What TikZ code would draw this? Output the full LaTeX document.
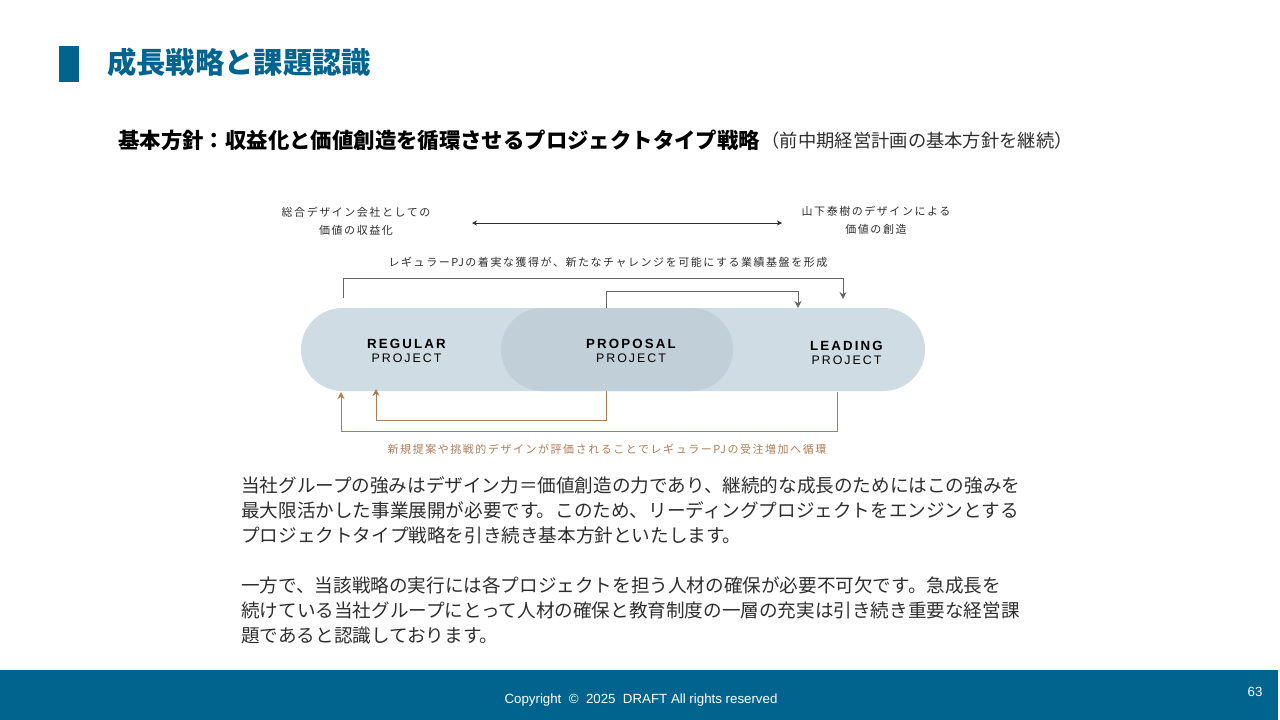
\documentclass[tikz,border=0pt]{standalone}
\usepackage{fontspec}
\setmainfont{Noto Sans CJK JP}
\newfontfamily\latinfont{Liberation Sans}
\newfontfamily\smallfont[LetterSpace=14]{Noto Sans CJK JP}
\newfontfamily\brandfont[LetterSpace=16]{Liberation Sans}
\usepackage{tikz}
\usetikzlibrary{arrows.meta}
\usetikzlibrary{positioning}
\usetikzlibrary{shapes.misc}
\definecolor{teal}{HTML}{00648F}
\definecolor{pilllight}{HTML}{D0DCE3}
\definecolor{pilldark}{HTML}{C1CFD9}
\definecolor{loopgray}{HTML}{666666}
\definecolor{loopbrown}{HTML}{AD7C55}
\definecolor{inkgray}{HTML}{2E2E2E}
\newcommand{\projectname}[1]{{\brandfont\bfseries #1}\\{\brandfont\fontsize{12.4}{13.5}\selectfont PROJECT}}
\tikzset{
    pill/.style={rounded rectangle, draw=none, inner sep=0pt, minimum height=83pt},
    caption/.style={align=center, inner sep=0pt, text=inkgray, font=\smallfont\fontsize{11}{18}\selectfont},
    looplabel/.style={inner sep=0pt, font=\smallfont\fontsize{11}{14}\selectfont},
    brand/.style={align=center, inner sep=0pt, font=\fontsize{13.3}{13.5}\selectfont},
    grayloop/.style={draw=loopgray, line width=1pt, -{Stealth[length=7pt,width=7pt]}},
    brownloop/.style={draw=loopbrown, line width=1pt, -{Stealth[length=7pt,width=7pt]}},
    footertext/.style={inner sep=0pt, text=white, font=\latinfont\fontsize{13.3}{15}\selectfont},
}
\begin{document}
\begin{tikzpicture}[x=1pt, y=-1pt]
	\useasboundingbox (0,0) rectangle (1280,720);
	% header
	\fill[teal] (59,46) rectangle (79,82);
	\node[anchor=west, inner sep=0pt, text=teal, font=\bfseries\fontsize{29.3}{32}\selectfont] (title) at (107,62) {成長戦略と課題認識};
	\node[anchor=west, inner sep=0pt, font=\bfseries\fontsize{21.4}{26}\selectfont] (policy) at (118,140) {基本方針^^^^ff1a収益化と価値創造を循環させるプロジェクトタイプ戦略};
	\node[right=1pt of policy, yshift=-1pt, inner sep=0pt, text=inkgray, font=\fontsize{18.3}{26}\selectfont] (policynote) {^^^^ff08前中期経営計画の基本方針を継続^^^^ff09};
	% top axis
	\node[caption] (revenue) at (356,221) {総合デザイン会社としての\\価値の収益化};
	\node[caption] (creation) at (876,220) {山下泰樹のデザインによる\\価値の創造};
	\coordinate (axisleft) at (472,223);
	\coordinate (axisright) at (782,223);
	\draw[{Stealth[length=5pt,width=5pt]}-{Stealth[length=5pt,width=5pt]}, line width=.8pt, draw=inkgray] (axisleft)--(axisright);
	% pills
	\node[pill, fill=pilllight, minimum width=624pt] (mainpill) at (613,349.5) {};
	\node[pill, fill=pilldark, minimum width=232pt] (proposalpill) at (617,349.5) {};
	\node[brand] (regular) at (406.5,351) {\projectname{REGULAR}};
	\node[brand] (proposal) at (631,351) {\projectname{PROPOSAL}};
	\node[brand] (leading) at (846.5,353) {\projectname{LEADING}};
	% gray loops
	\node[looplabel, text=inkgray] (basislabel) at (608,262) {レギュラーPJの着実な獲得が、新たなチャレンジを可能にする業績基盤を形成};
	\coordinate (basisfrom) at (343,298);
	\coordinate (basisto) at (843,299);
	\coordinate (proposalfrom) at (606,308);
	\coordinate (proposalto) at (798,308);
	\draw[grayloop] (basisfrom)--(343,278)--(843,278)--(basisto);
	\draw[grayloop] (proposalfrom)--(606,291)--(798,291)--(proposalto);
	% brown loops
	\coordinate (leadingfrom) at (837,392);
	\coordinate (leadingto) at (341,392);
	\coordinate (returnfrom) at (606,391);
	\coordinate (returnto) at (376,389);
	\draw[brownloop] (leadingfrom)--(837,431)--(341,431)--(leadingto);
	\draw[brownloop] (returnfrom)--(606,420)--(376,420)--(returnto);
	\node[looplabel, text=loopbrown] (cyclelabel) at (607,449) {新規提案や挑戦的デザインが評価されることでレギュラーPJの受注増加へ循環};
	% body
	\node[anchor=west, align=left, inner sep=0pt, text=inkgray, font=\fontsize{18.6}{25}\selectfont] (bodytext) at (241,560.5) {当社グループの強みはデザイン力^^^^ff1d価値創造の力であり、継続的な成長のためにはこの強みを\\最大限活かした事業展開が必要です。このため、リーディングプロジェクトをエンジンとする\\プロジェクトタイプ戦略を引き続き基本方針といたします。\\[25pt]一方で、当該戦略の実行には各プロジェクトを担う人材の確保が必要不可欠です。急成長を\\続けている当社グループにとって人材の確保と教育制度の一層の充実は引き続き重要な経営課\\題であると認識しております。};
	% footer
	\fill[teal] (0,670) rectangle (1278,720);
	\node[footertext] (copyright) at (641,700.5) {Copyright\ \ ©\ \ 2025\ \ DRAFT All rights reserved};
	\node[footertext] (pagenumber) at (1255,692) {63};
\end{tikzpicture}
\end{document}
